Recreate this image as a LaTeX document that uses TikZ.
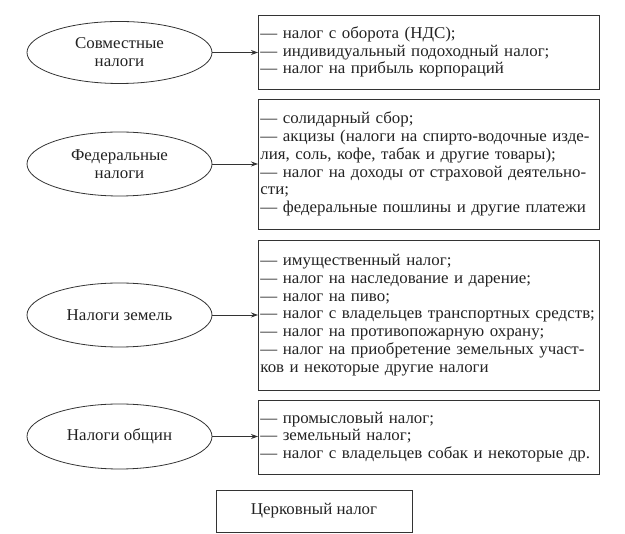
\documentclass[tikz,border=0pt]{standalone}
\usepackage{fontspec}
\setmainfont[FakeStretch=1.025]{Liberation Serif}
\usetikzlibrary{shapes.geometric,arrows.meta}
\definecolor{txt}{HTML}{222222}
\definecolor{ln}{HTML}{333333}
\begin{document}
\begin{tikzpicture}[x=1pt,y=-1pt,
  every node/.style={font=\fontsize{16.5}{17.8}\selectfont, text=txt},
  ell/.style={ellipse, draw=ln, line width=0.8pt, minimum width=185pt, inner sep=0pt, align=center},
  lst/.style={draw=ln, line width=0.8pt, minimum width=341pt, text width=337pt, inner xsep=2pt, inner ysep=0pt, align=left, anchor=west},
  arr/.style={draw=ln, line width=0.8pt, -{Stealth[length=7pt,width=5pt]}}]
\useasboundingbox (0,0) rectangle (625,534);

\node[ell, minimum height=62pt] (e1) at (119.5,52.5) {Совместные\\налоги};
\node[ell, minimum height=64pt] (e2) at (119.5,164) {Федеральные\\налоги};
\node[ell, minimum height=64pt] (e3) at (119.5,315) {Налоги земель};
\node[ell, minimum height=65pt] (e4) at (119.5,436.5) {Налоги общин};

\node[lst, minimum height=74pt] (b1) at (258,52) {— налог с оборота (НДС);\\— индивидуальный подоходный налог;\\— налог на прибыль корпораций};
\node[lst, minimum height=130pt] (b2) at (258,164) {— солидарный сбор;\\— акцизы (налоги на спирто-водочные изде-\\лия, соль, кофе, табак и другие товары);\\— налог на доходы от страховой деятельно-\\сти;\\— федеральные пошлины и другие платежи};
\node[lst, minimum height=150pt] (b3) at (258,315) {— имущественный налог;\\— налог на наследование и дарение;\\— налог на пиво;\\— налог с владельцев транспортных средств;\\— налог на противопожарную охрану;\\— налог на приобретение земельных участ-\\ков и некоторые другие налоги};
\node[lst, minimum height=74pt] (b4) at (258,437) {— промысловый налог;\\— земельный налог;\\— налог с владельцев собак и некоторые др.};

\node[draw=ln, line width=0.8pt, minimum width=196pt, minimum height=42pt, inner sep=0pt] (c) at (314,511) {Церковный налог};

\draw[arr] (e1.east) -- (e1.east -| b1.west);
\draw[arr] (e2.east) -- (e2.east -| b2.west);
\draw[arr] (e3.east) -- (e3.east -| b3.west);
\draw[arr] (e4.east) -- (e4.east -| b4.west);
\end{tikzpicture}
\end{document}
